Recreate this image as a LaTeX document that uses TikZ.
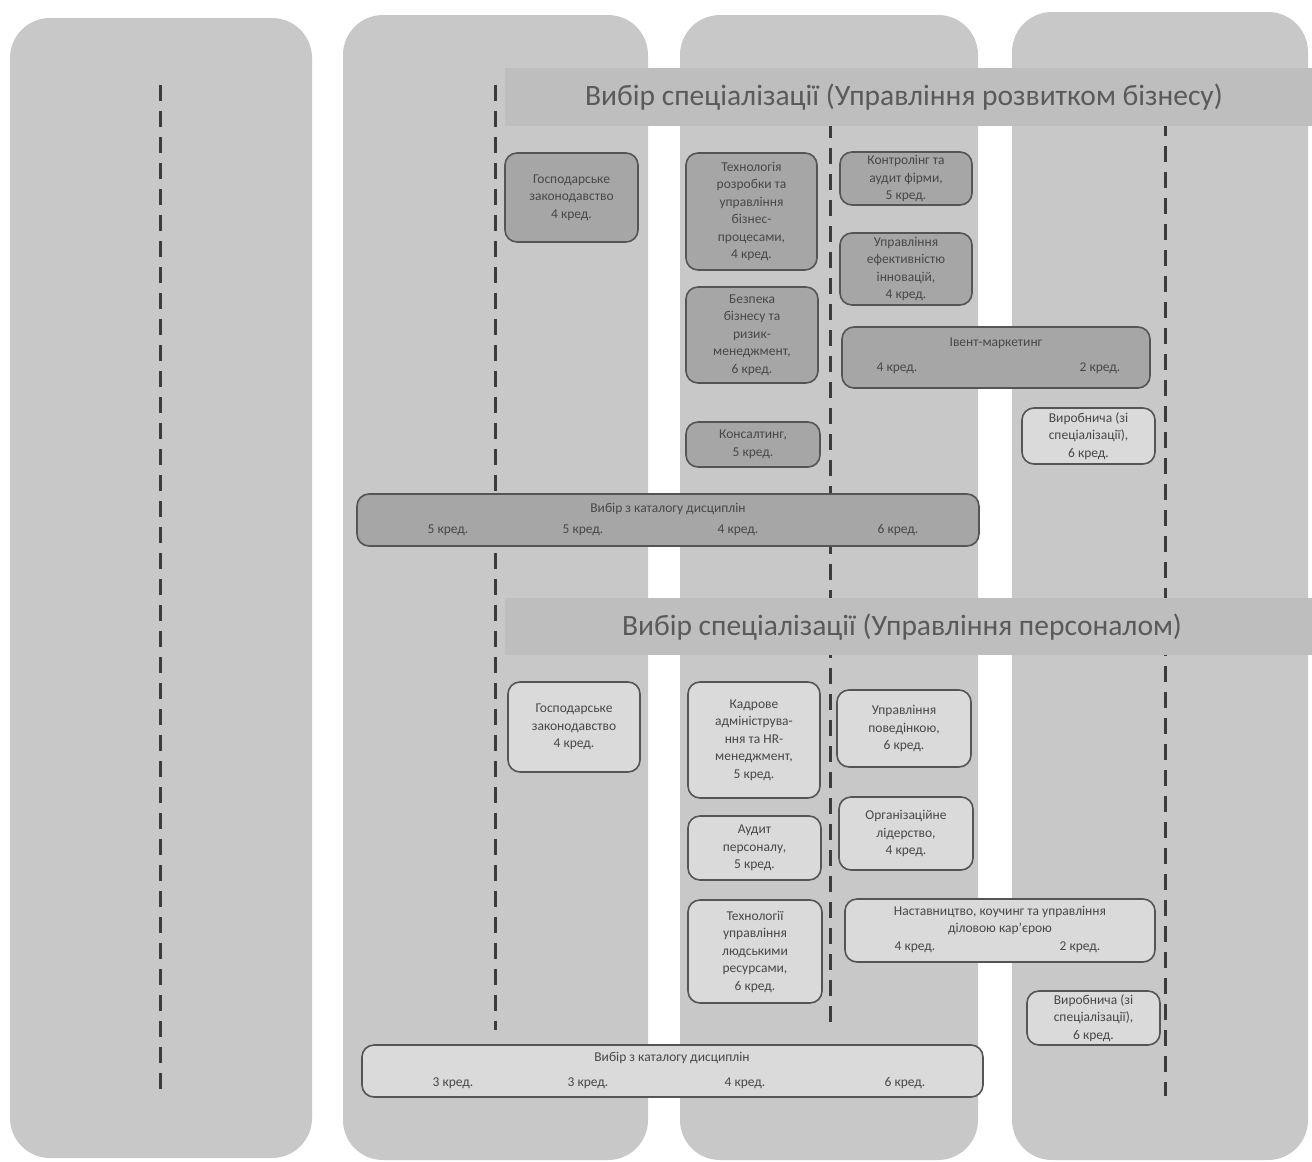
\documentclass[tikz,border=0pt]{standalone}
\usepackage{fontspec}
\setmainfont{Carlito}
\definecolor{colfill}{HTML}{C8C8C8}
\definecolor{bandfill}{HTML}{BEBEBE}
\definecolor{darkfill}{HTML}{A6A6A6}
\definecolor{lightfill}{HTML}{DADADA}
\definecolor{boxline}{HTML}{555555}
\definecolor{txt}{HTML}{474747}
\definecolor{titletxt}{HTML}{5A5A5A}
\definecolor{dashcol}{HTML}{3C3C3C}
\begin{document}
\begin{tikzpicture}[x=1pt,y=-1pt,
  colstrip/.style={fill=colfill, rounded corners=40pt},
  band/.style={fill=bandfill},
  dashline/.style={draw=dashcol, line width=3pt, dash pattern=on 16pt off 10pt},
  basebox/.style={draw=boxline, line width=1.6pt, rounded corners=12pt, inner sep=2pt,
    align=center, text=txt, font=\fontsize{13.5}{17.5}\selectfont},
  darkbox/.style={basebox, fill=darkfill},
  lightbox/.style={basebox, fill=lightfill},
  lbl/.style={text=txt, font=\fontsize{13.5}{17.5}\selectfont, inner sep=0pt, align=center},
  title/.style={text=titletxt, font=\fontsize{29.5}{34}\selectfont, inner sep=0pt}
]
\useasboundingbox (0,0) rectangle (1312,1162);
\fill[white] (0,0) rectangle (1312,1162);
% column strips
\fill[colstrip] (10,18) rectangle (312,1158);
\fill[colstrip] (343,15) rectangle (648,1160);
\fill[colstrip] (680,15) rectangle (978,1160);
\fill[colstrip] (1012,12) rectangle (1308,1160);
% dashed guide lines
\draw[dashline] (160,85) -- (160,1096);
\draw[dashline] (495,85) -- (495,1030);
\draw[dashline] (830,122) -- (830,1030);
\draw[dashline] (1165,120) -- (1165,1096);
% title bands
\fill[band] (505,68) rectangle (1312,126);
\fill[band] (505,598) rectangle (1312,655);
\node[title] (t1) at (904,97) {Вибір спеціалізації (Управління розвитком бізнесу)};
\node[title] (t2) at (902,627) {Вибір спеціалізації (Управління персоналом)};

% ---- top section
\node[darkbox, minimum width=133pt, minimum height=89pt] (tgz) at (571.5,197.5) {Господарське\\законодавство\\4 кред.};
\node[darkbox, minimum width=131pt, minimum height=117pt] (ttech) at (751.5,211.5) {Технологія\\розробки та\\управління\\бізнес-\\процесами,\\4 кред.};
\node[darkbox, minimum width=132pt, minimum height=53pt] (tkontr) at (906,178.5) {Контролінг та\\аудит фірми,\\5 кред.};
\node[darkbox, minimum width=132pt, minimum height=72pt] (tupr) at (906,269) {Управління\\ефективністю\\інновацій,\\4 кред.};
\node[darkbox, minimum width=132pt, minimum height=96pt] (tbez) at (752,335) {Безпека\\бізнесу та\\ризик-\\менеджмент,\\6 кред.};
\node[darkbox, minimum width=308pt, minimum height=61pt] (tevent) at (996,357.5) {};
\node[lbl] (teventT) at (996,343) {Івент-маркетинг};
\node[lbl] (teventA) at (897,368) {4 кред.};
\node[lbl] (teventB) at (1100,368) {2 кред.};
\node[darkbox, minimum width=134pt, minimum height=45pt] (tkons) at (753,444.5) {Консалтинг,\\5 кред.};
\node[lightbox, minimum width=133pt, minimum height=56pt] (tvyr) at (1088.5,436) {Виробнича (зі\\спеціалізації),\\6 кред.};
\node[darkbox, minimum width=622pt, minimum height=52pt] (tbar) at (668,520) {};
\node[lbl] (tbarT) at (668,509) {Вибір з каталогу дисциплін};
\node[lbl] (tbarA) at (448,530) {5 кред.};
\node[lbl] (tbarB) at (583,530) {5 кред.};
\node[lbl] (tbarC) at (738,530) {4 кред.};
\node[lbl] (tbarD) at (898,530) {6 кред.};

% ---- bottom section
\node[lightbox, minimum width=132pt, minimum height=90pt] (bgz) at (574,727) {Господарське\\законодавство\\4 кред.};
\node[lightbox, minimum width=132pt, minimum height=116pt] (bkadr) at (754,740) {Кадрове\\адмініструва-\\ння та HR-\\менеджмент,\\5 кред.};
\node[lightbox, minimum width=134pt, minimum height=77pt] (bpov) at (904,728.5) {Управління\\поведінкою,\\6 кред.};
\node[lightbox, minimum width=133pt, minimum height=64pt] (baud) at (754.5,848) {Аудит\\персоналу,\\5 кред.};
\node[lightbox, minimum width=134pt, minimum height=73pt] (borg) at (906,833.5) {Організаційне\\лідерство,\\4 кред.};
\node[lightbox, minimum width=134pt, minimum height=103pt] (btech) at (755,951.5) {Технології\\управління\\людськими\\ресурсами,\\6 кред.};
\node[lightbox, minimum width=310pt, minimum height=63pt] (bnast) at (1000,930.5) {};
\node[lbl] (bnastT1) at (1000,912) {Наставництво, коучинг та управління};
\node[lbl] (bnastT2) at (1000,929) {діловою кар'єрою};
\node[lbl] (bnastA) at (915,947) {4 кред.};
\node[lbl] (bnastB) at (1080,947) {2 кред.};
\node[lightbox, minimum width=133pt, minimum height=54pt] (bvyr) at (1093.5,1018) {Виробнича (зі\\спеціалізації),\\6 кред.};
\node[lightbox, minimum width=621pt, minimum height=52pt] (bbar) at (672.5,1071) {};
\node[lbl] (bbarT) at (672,1058) {Вибір з каталогу дисциплін};
\node[lbl] (bbarA) at (453,1083) {3 кред.};
\node[lbl] (bbarB) at (588,1083) {3 кред.};
\node[lbl] (bbarC) at (745,1083) {4 кред.};
\node[lbl] (bbarD) at (905,1083) {6 кред.};
\end{tikzpicture}
\end{document}
